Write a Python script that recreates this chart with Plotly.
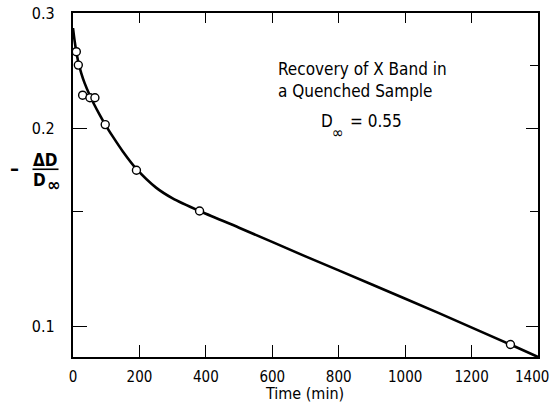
import plotly.graph_objects as go

# Measured data points (time in min, -ΔD/D∞)
time_pts = [10, 16, 29, 51, 66, 97, 191, 381, 1317]
value_pts = [0.262, 0.250, 0.225, 0.223, 0.223, 0.203, 0.173, 0.150, 0.094]

# Drawn smooth curve
curve_t = [0, 5, 10, 16, 25, 35, 51, 65, 80, 97, 120, 150, 191, 250, 300, 381, 500, 700, 900, 1100, 1317, 1400]
curve_v = [0.2846, 0.2718, 0.262, 0.2527, 0.2429, 0.2347, 0.2246, 0.2172, 0.2102, 0.203, 0.1946, 0.1848,
           0.1738, 0.1628, 0.1568, 0.150, 0.1415, 0.128, 0.116, 0.105, 0.094, 0.090]

x_ticks = [0, 200, 400, 600, 800, 1000, 1200, 1400]
x_tick_labels = ["0", "200", "400", "600", "800", "1000", "1200", ""]
x_last_label = "1400"  # drawn slightly inset, as in the original
x_inner_ticks = [200, 400, 600, 800, 1000, 1200]
y_ticks = [0.1, 0.2, 0.3]
y_tick_labels = ["0.1", "0.2", "0.3"]
y_minor_left = [0.15]
y_right_major = [0.1, 0.2]
y_right_minor = [0.15, 0.25]

FONT = "DejaVu Sans Condensed, Liberation Sans, Arial, sans-serif"
yr = [-1.0458, -0.5229]  # log10(0.09), log10(0.3)

fig = go.Figure()
fig.add_trace(go.Scatter(x=curve_t, y=curve_v, mode="lines",
                         line=dict(color="black", width=2.6, shape="spline", smoothing=0.7),
                         hoverinfo="skip", showlegend=False))
fig.add_trace(go.Scatter(x=time_pts, y=value_pts, mode="markers",
                         marker=dict(symbol="circle", size=8, color="white", line=dict(color="black", width=1.4)),
                         showlegend=False))
# invisible trace to anchor secondary axes
fig.add_trace(go.Scatter(x=time_pts, y=value_pts, mode="markers", xaxis="x2", yaxis="y2",
                         marker=dict(opacity=0), hoverinfo="skip", showlegend=False))

fig.update_layout(
    width=553, height=404,
    margin=dict(l=73, r=15, t=13, b=47, autoexpand=False),
    paper_bgcolor="white", plot_bgcolor="white",
    font=dict(family=FONT, size=15, color="black"),
    xaxis=dict(range=[0, 1400], tickvals=x_ticks, ticktext=x_tick_labels,
               ticks="inside", ticklen=12, tickwidth=1.2, tickcolor="black",
               showline=True, linecolor="black", linewidth=2.2, showgrid=False, zeroline=False,
               ticklabelstandoff=5, ticklabeloverflow="allow", automargin=False,
               tickfont=dict(size=15)),
    xaxis2=dict(range=[0, 1400], overlaying="x", side="top", tickvals=x_inner_ticks, showticklabels=False,
                ticks="inside", ticklen=10, tickwidth=1.2, tickcolor="black", automargin=False,
                showline=True, linecolor="black", linewidth=2.2, showgrid=False, zeroline=False),
    yaxis=dict(type="log", range=yr, tickvals=y_ticks, ticktext=y_tick_labels,
               ticks="inside", ticklen=14, tickwidth=1.2, tickcolor="black",
               minor=dict(tickmode="array", tickvals=y_minor_left, ticks="inside", ticklen=10,
                          tickwidth=1.2, tickcolor="black", showgrid=False),
               showline=True, linecolor="black", linewidth=2.2, showgrid=False, zeroline=False,
               ticklabelstandoff=13, ticklabeloverflow="allow", automargin=False,
               tickfont=dict(size=16)),
    yaxis2=dict(type="log", range=yr, overlaying="y", side="right", tickvals=y_right_major, showticklabels=False,
                ticks="inside", ticklen=12, tickwidth=1.2, tickcolor="black", automargin=False,
                minor=dict(tickmode="array", tickvals=y_right_minor, ticks="inside", ticklen=8,
                           tickwidth=1.2, tickcolor="black", showgrid=False),
                showline=True, linecolor="black", linewidth=2.2, showgrid=False, zeroline=False),
)

W, H = 465.0, 344.5
def px(x):
    return (x - 73.5) / W
def py(y):
    return (357 - y) / H

# last x tick label, inset so it stays inside the page
fig.add_annotation(x=px(532), y=py(377), xref="paper", yref="paper", xanchor="center", yanchor="middle",
                   text=x_last_label, showarrow=False, font=dict(family=FONT, size=15))
# x-axis title
fig.add_annotation(x=px(305), y=py(394), xref="paper", yref="paper", xanchor="center", yanchor="middle",
                   text="Time (min)", showarrow=False, font=dict(family=FONT, size=16))

fig.add_annotation(x=px(276), y=py(57), xref="paper", yref="paper", xanchor="left", yanchor="top",
                   text="Recovery of X Band in<br>a Quenched Sample", showarrow=False, align="left",
                   font=dict(family=FONT, size=17))
fig.add_annotation(x=px(319), y=py(121), xref="paper", yref="paper", xanchor="left", yanchor="middle",
                   text="D", showarrow=False, font=dict(family=FONT, size=17))
fig.add_annotation(x=px(330), y=py(132), xref="paper", yref="paper", xanchor="left", yanchor="middle",
                   text="∞", showarrow=False, font=dict(family=FONT, size=16))
fig.add_annotation(x=px(348), y=py(121), xref="paper", yref="paper", xanchor="left", yanchor="middle",
                   text="= 0.55", showarrow=False, font=dict(family=FONT, size=17))
# y-axis label: – ΔD / D∞
fig.add_annotation(x=px(15), y=py(168), xref="paper", yref="paper", xanchor="center", yanchor="middle",
                   text="<b>–</b>", showarrow=False, font=dict(family=FONT, size=20))
fig.add_annotation(x=px(46), y=py(160), xref="paper", yref="paper", xanchor="center", yanchor="middle",
                   text="<b>ΔD</b>", showarrow=False, font=dict(family=FONT, size=17))
fig.add_annotation(x=px(40), y=py(180), xref="paper", yref="paper", xanchor="center", yanchor="middle",
                   text="<b>D</b>", showarrow=False, font=dict(family=FONT, size=17))
fig.add_annotation(x=px(54), y=py(184), xref="paper", yref="paper", xanchor="center", yanchor="middle",
                   text="<b>∞</b>", showarrow=False, font=dict(family=FONT, size=18))
fig.add_shape(type="line", xref="paper", yref="paper", x0=px(33), x1=px(59), y0=py(169), y1=py(169),
              line=dict(color="black", width=1.6))

fig.write_html("out.html")
